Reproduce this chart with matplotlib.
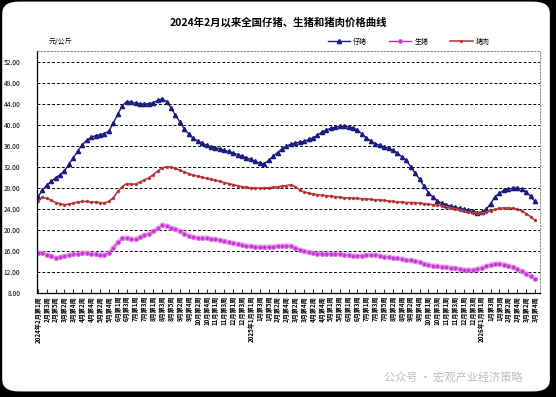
#!/usr/bin/env python3
"""National piglet, hog and pork price curves since Feb 2024."""

import matplotlib

matplotlib.use("Agg")
import matplotlib.pyplot as plt
from matplotlib.patches import FancyBboxPatch

plt.rcParams["font.family"] = ["Noto Sans CJK SC", "DejaVu Sans"]

TITLE = "2024年2月以来全国仔猪、生猪和猪肉价格曲线"
UNIT = "元/公斤"
SERIES_NAMES = ["仔猪", "生猪", "猪肉"]

TICK_LABELS = [
    "2024年2月第1周", "2月第3周", "2月第5周", "3月第2周", "3月第4周",
    "4月第2周", "4月第4周", "5月第2周", "5月第4周", "6月第1周",
    "6月第3周", "7月第1周", "7月第3周", "8月第1周", "8月第3周",
    "8月第5周", "9月第2周", "9月第4周", "10月第2周", "10月第4周",
    "11月第1周", "11月第3周", "12月第1周", "12月第3周",
    "2025年1月第1周", "1月第3周", "1月第5周", "2月第2周", "2月第4周",
    "3月第2周", "3月第4周", "4月第2周", "4月第4周", "5月第1周",
    "5月第3周", "6月第1周", "6月第3周", "7月第1周", "7月第3周",
    "7月第5周", "8月第2周", "8月第4周", "9月第2周", "9月第4周",
    "10月第1周", "10月第3周", "11月第1周", "11月第3周", "12月第1周",
    "12月第3周",
    "2026年1月第1周", "1月第3周", "1月第5周", "2月第2周", "2月第4周",
    "3月第2周", "3月第4周",
]

# weekly prices, yuan/kg
piglet = [
    26.3, 27.5, 28.5, 29.2, 29.9, 30.5, 31.2, 32.5, 33.7, 35.0,
    36.2, 37.0, 37.6, 37.9, 38.1, 38.3, 38.8, 40.3, 42.0, 43.6,
    44.4, 44.3, 44.1, 44.0, 43.9, 44.0, 44.2, 44.6, 44.9, 44.4,
    43.2, 41.8, 40.5, 39.2, 38.2, 37.4, 36.9, 36.5, 36.1, 35.8,
    35.6, 35.4, 35.1, 34.9, 34.6, 34.3, 34.0, 33.7, 33.4, 33.0,
    32.7, 32.6, 33.2, 34.0, 34.7, 35.4, 35.9, 36.3, 36.5, 36.7,
    36.8, 37.2, 37.5, 38.0, 38.6, 39.0, 39.3, 39.5, 39.7, 39.7,
    39.6, 39.4, 39.0, 38.2, 37.5, 36.9, 36.4, 36.1, 35.8, 35.5,
    35.1, 34.6, 33.9, 33.2, 32.0, 30.8, 29.6, 28.3, 27.1, 26.2,
    25.5, 25.1, 24.8, 24.5, 24.3, 24.1, 23.9, 23.7, 23.5, 23.3,
    23.4, 23.9, 25.0, 26.3, 27.0, 27.5, 27.8, 27.9, 28.0, 27.8,
    27.2, 26.4, 25.4,
]
hog = [
    15.6, 15.6, 15.3, 15.0, 14.7, 14.8, 15.0, 15.2, 15.4, 15.5,
    15.6, 15.6, 15.5, 15.4, 15.3, 15.3, 15.6, 16.6, 17.6, 18.4,
    18.5, 18.3, 18.2, 18.6, 19.0, 19.3, 19.7, 20.3, 20.9, 20.8,
    20.4, 20.1, 19.7, 19.3, 18.9, 18.6, 18.5, 18.5, 18.5, 18.3,
    18.2, 18.0, 17.8, 17.6, 17.5, 17.3, 17.2, 17.0, 16.9, 16.8,
    16.8, 16.7, 16.8, 16.8, 16.9, 16.9, 17.0, 16.9, 16.6, 16.2,
    15.9, 15.7, 15.6, 15.5, 15.5, 15.5, 15.5, 15.4, 15.4, 15.3,
    15.2, 15.1, 15.1, 15.1, 15.2, 15.3, 15.2, 15.1, 14.9, 14.8,
    14.7, 14.6, 14.5, 14.3, 14.2, 14.0, 13.8, 13.6, 13.4, 13.2,
    13.1, 13.0, 12.9, 12.8, 12.7, 12.5, 12.4, 12.4, 12.4, 12.5,
    12.8, 13.1, 13.4, 13.6, 13.6, 13.4, 13.2, 12.9, 12.5, 12.1,
    11.7, 11.2, 10.7,
]
pork = [
    25.5, 26.2, 26.0, 25.6, 25.2, 25.0, 24.8, 24.9, 25.1, 25.3,
    25.4, 25.4, 25.3, 25.3, 25.2, 25.1, 25.4, 26.1, 27.3, 28.2,
    28.8, 28.7, 28.7, 29.1, 29.5, 29.9, 30.5, 31.2, 31.8, 32.0,
    31.9, 31.7, 31.3, 31.0, 30.7, 30.4, 30.2, 30.0, 29.8, 29.6,
    29.4, 29.2, 29.0, 28.8, 28.6, 28.4, 28.2, 28.1, 28.0, 28.0,
    27.9, 28.0, 28.0, 28.1, 28.2, 28.3, 28.4, 28.6, 28.2, 27.6,
    27.2, 27.0, 26.8, 26.7, 26.6, 26.5, 26.4, 26.3, 26.2, 26.1,
    26.1, 26.0, 26.0, 25.9, 25.9, 25.8, 25.7, 25.7, 25.6, 25.5,
    25.4, 25.3, 25.3, 25.2, 25.2, 25.2, 25.1, 25.0, 24.9, 24.8,
    24.7, 24.6, 24.4, 24.2, 24.0, 23.8, 23.6, 23.4, 23.3, 23.2,
    23.2, 23.4, 23.6, 23.9, 24.1, 24.2, 24.2, 24.1, 23.9, 23.6,
    23.1, 22.5, 21.8,
]

weeks = list(range(len(piglet)))

fig = plt.figure(figsize=(5.56, 3.97), dpi=100)
fig.patch.set_facecolor("black")
fig.add_artist(FancyBboxPatch(
    (0.004, 0.014), 0.985, 0.982, boxstyle="round,pad=0,rounding_size=0.03",
    transform=fig.transFigure, facecolor="white", edgecolor="none", zorder=0,
))

ax = fig.add_axes([0.0665, 0.262, 0.9045, 0.6095])
ax.set_facecolor("white")

ax.plot(weeks, hog, color="#ee66ee", lw=4, alpha=0.35, solid_capstyle="round")
ax.plot(weeks, hog, color="#b030c0", lw=1.0, marker="o", ms=2.8,
        mfc="#b030c0", mec="#e070e8", mew=0.8, label=SERIES_NAMES[1])
ax.plot(weeks, piglet, color="#1a1a80", lw=1.0, marker="^", ms=3.0,
        mfc="#1a1a80", mec="#1a1a80", label=SERIES_NAMES[0])
ax.plot(weeks, pork, color="#b03030", lw=1.1, marker="o", ms=2.0,
        mfc="#902020", mec="#d05050", mew=0.5, label=SERIES_NAMES[2])

ax.set_ylim(8, 54)
ax.set_xlim(-0.2, 113.1)
ax.set_yticks(range(8, 53, 4))
ax.set_yticklabels([f"{v:.2f}" for v in range(8, 53, 4)], fontsize=4.8)
ax.set_xticks(weeks[::2])
ax.set_xticklabels(TICK_LABELS, rotation=90, fontsize=4.4, fontweight="bold",
                   va="top", ha="center")
ax.tick_params(axis="x", direction="in", length=3, width=0.6, pad=2)
ax.tick_params(axis="y", length=0, pad=12)
for v in range(12, 53, 4):
    ax.axhline(v, color="black", lw=0.7, ls=(0, (3, 2)), zorder=0.5)

ax.spines["left"].set_linewidth(0.9)
ax.spines["bottom"].set_linewidth(0.9)
for side in ("top", "right"):
    ax.spines[side].set_linestyle((0, (2, 2)))
    ax.spines[side].set_color("#777777")
    ax.spines[side].set_linewidth(0.6)

handles, labels = ax.get_legend_handles_labels()
order = [1, 0, 2]
fig.legend([handles[i] for i in order], [labels[i] for i in order],
           loc="center", bbox_to_anchor=(0.735, 0.895), ncol=3, frameon=False,
           fontsize=5, handlelength=3.2, columnspacing=3.2, handletextpad=0.4)

fig.text(0.5, 0.944, TITLE, ha="center", va="center", fontsize=7.5,
         fontweight="bold")
fig.text(0.088, 0.895, UNIT, ha="left", va="center", fontsize=5)
fig.text(0.815, 0.048, "公众号 · 宏观产业经济策略", ha="center", va="center",
         fontsize=8, color="#b0b0b0", alpha=0.85)

fig.savefig("out.png", dpi=100, facecolor=fig.get_facecolor())
